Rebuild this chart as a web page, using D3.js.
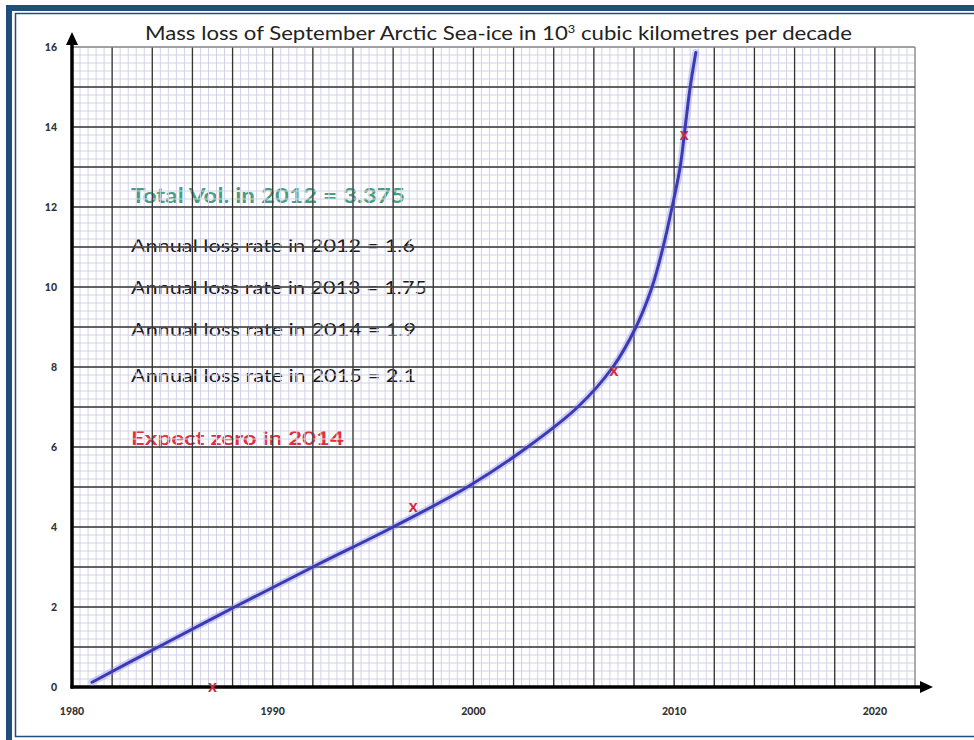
<!DOCTYPE html>
<html>
<head>
<meta charset="utf-8">
<script src="https://cdn.jsdelivr.net/npm/d3@7"></script>
<style>
  body { margin: 0; background: #fff; }
  svg { display: block; }
</style>
</head>
<body>
<div id="chart"></div>
<script>
// CURVE (year, 10^3 km3)
const YEARS = [1981.0, 1984.3, 1988.1, 1992.0, 1996.0, 1999.7, 2002.7, 2005.2, 2006.95, 2008.1, 2008.9, 2009.45, 2009.9, 2010.3, 2010.55, 2010.8, 2011.08];
const LOSS = [0.12, 1, 2, 3, 4, 5, 6, 7, 8, 9, 10, 11, 12, 13, 14, 15, 15.86];

// RED CROSSES (measured points)
const MARK_YEARS = [1987, 1997, 2007, 2010.5];
const MARK_LOSS = [0, 4.5, 7.9, 13.8];

const X_TICKS = [1980, 1990, 2000, 2010, 2020];
const Y_TICKS = [0, 2, 4, 6, 8, 10, 12, 14, 16];

const TITLE = 'Mass loss of September Arctic Sea-ice in 10';
const NOTES = [
  'Total Vol. in 2012 = 3.375',
  'Annual loss rate in 2012 = 1.6',
  'Annual loss rate in 2013 = 1.75',
  'Annual loss rate in 2014 = 1.9',
  'Annual loss rate in 2015 = 2.1',
  'Expect zero in 2014'
];

const W = 974, H = 740;
const FONT = 'Lato, "Open Sans", sans-serif';

const svg = d3.select('#chart')
  .append('svg')
  .attr('width', W)
  .attr('height', H);

// FRAME
svg.append('rect').attr('width', W).attr('height', H).attr('fill', '#fff');
svg.append('rect')
  .attr('x', 9).attr('y', 8).attr('width', 1000).attr('height', 735)
  .attr('fill', 'none').attr('stroke', '#1f4e7c').attr('stroke-width', 6);
svg.append('rect')
  .attr('x', 15.5).attr('y', 13.5).attr('width', 1000).attr('height', 723)
  .attr('fill', 'none').attr('stroke', '#1f4e7c').attr('stroke-width', 1.5);

const x = d3.scaleLinear().domain([1980, 2022]).range([72, 915]);
const y = d3.scaleLinear().domain([0, 16]).range([687, 47]);

// NOTES GO UNDER THE GRID, like the original
const notes = svg.append('g').attr('font-family', FONT);
const noteStyle = [
  { y: 203, size: 21, fill: '#4a9e80', weight: 700, len: 274 },
  { y: 252, size: 18, fill: '#1a1a1a', weight: 400, len: 284 },
  { y: 294, size: 18, fill: '#1a1a1a', weight: 400, len: 296 },
  { y: 336, size: 18, fill: '#1a1a1a', weight: 400, len: 285 },
  { y: 382, size: 18, fill: '#1a1a1a', weight: 400, len: 285 },
  { y: 445, size: 19, fill: '#e0303c', weight: 700, len: 213 }
];
notes.selectAll('text')
  .data(NOTES)
  .enter()
  .append('text')
  .attr('x', 131)
  .attr('y', function (d, i) { return noteStyle[i].y; })
  .attr('font-size', function (d, i) { return noteStyle[i].size; })
  .attr('font-weight', function (d, i) { return noteStyle[i].weight; })
  .attr('fill', function (d, i) { return noteStyle[i].fill; })
  .attr('textLength', function (d, i) { return noteStyle[i].len; })
  .attr('lengthAdjust', 'spacingAndGlyphs')
  .text(function (d) { return d; });

// GRAPH PAPER
const grid = svg.append('g');
const minorX = d3.range(0, 106).map(function (i) { return 1980 + i * 0.4; });
const minorY = d3.range(0, 81).map(function (i) { return i * 0.2; });
grid.selectAll('.mx').data(minorX).enter().append('line')
  .attr('x1', function (d) { return x(d); }).attr('x2', function (d) { return x(d); })
  .attr('y1', y(16)).attr('y2', y(0))
  .attr('stroke', '#d3d1ea').attr('stroke-width', 1);
grid.selectAll('.my').data(minorY).enter().append('line')
  .attr('y1', function (d) { return y(d); }).attr('y2', function (d) { return y(d); })
  .attr('x1', x(1980)).attr('x2', x(2022))
  .attr('stroke', '#d3d1ea').attr('stroke-width', 1);

const majorX = d3.range(1982, 2022.01, 2);
const majorY = d3.range(1, 17, 1);
grid.selectAll('.Mx').data(majorX).enter().append('line')
  .attr('x1', function (d) { return x(d); }).attr('x2', function (d) { return x(d); })
  .attr('y1', y(16)).attr('y2', y(0))
  .attr('stroke', function (d) { return d === 2022 ? '#888' : '#333'; })
  .attr('stroke-width', 1.3);
grid.selectAll('.My').data(majorY).enter().append('line')
  .attr('y1', function (d) { return y(d); }).attr('y2', function (d) { return y(d); })
  .attr('x1', x(1980)).attr('x2', x(2022))
  .attr('stroke', function (d) { return d === 16 ? '#888' : '#333'; })
  .attr('stroke-width', 1.3);

// AXES WITH ARROWS
svg.append('line')
  .attr('x1', x(1980)).attr('x2', x(1980))
  .attr('y1', y(0) + 1.5).attr('y2', 42)
  .attr('stroke', '#000').attr('stroke-width', 3.5);
svg.append('path')
  .attr('d', 'M' + x(1980) + ',32 l-6,13 l12,0 z')
  .attr('fill', '#000');
svg.append('line')
  .attr('x1', x(1980) - 1.5).attr('x2', 922)
  .attr('y1', y(0)).attr('y2', y(0))
  .attr('stroke', '#000').attr('stroke-width', 3.5);
svg.append('path')
  .attr('d', 'M933,' + y(0) + ' l-13,-6 l0,12 z')
  .attr('fill', '#000');

// TICK LABELS
svg.append('g').selectAll('text')
  .data(Y_TICKS).enter().append('text')
  .attr('x', 57)
  .attr('y', function (d) { return y(d) + 3.5; })
  .attr('text-anchor', 'end')
  .attr('font-family', FONT).attr('font-size', 10.5).attr('font-weight', 900)
  .attr('fill', '#333')
  .text(function (d) { return d; });
svg.append('g').selectAll('text')
  .data(X_TICKS).enter().append('text')
  .attr('x', function (d) { return x(d); })
  .attr('y', 715)
  .attr('text-anchor', 'middle')
  .attr('font-family', FONT).attr('font-size', 10.5).attr('font-weight', 900)
  .attr('fill', '#333')
  .text(function (d) { return d; });

// TITLE
const title = svg.append('text')
  .attr('x', 145).attr('y', 40)
  .attr('font-family', FONT).attr('font-size', 19)
  .attr('fill', '#222')
  .attr('textLength', 707)
  .attr('lengthAdjust', 'spacingAndGlyphs');
title.append('tspan').text(TITLE);
title.append('tspan').attr('dy', -7).attr('font-size', 11).text('3');
title.append('tspan').attr('dy', 7).text(' cubic kilometres per decade');

// CURVE
const pts = YEARS.map(function (d, i) { return [d, LOSS[i]]; });
const line = d3.line()
  .x(function (d) { return x(d[0]); })
  .y(function (d) { return y(d[1]); })
  .curve(d3.curveCatmullRom.alpha(0.5));
svg.append('path')
  .datum(pts)
  .attr('d', line)
  .attr('fill', 'none').attr('stroke', '#8f8fe6').attr('stroke-opacity', 0.4)
  .attr('stroke-width', 7).attr('stroke-linecap', 'round');
svg.append('path')
  .datum(pts)
  .attr('d', line)
  .attr('fill', 'none').attr('stroke', '#3a3ab4')
  .attr('stroke-width', 3).attr('stroke-linecap', 'round');

// MARKERS
svg.append('g').selectAll('text')
  .data(MARK_YEARS).enter().append('text')
  .attr('x', function (d) { return x(d); })
  .attr('y', function (d, i) { return y(MARK_LOSS[i]) + 5; })
  .attr('text-anchor', 'middle')
  .attr('font-family', FONT).attr('font-size', 17).attr('font-weight', 700)
  .attr('fill', '#d02a3c')
  .text('x');
</script>
</body>
</html>
